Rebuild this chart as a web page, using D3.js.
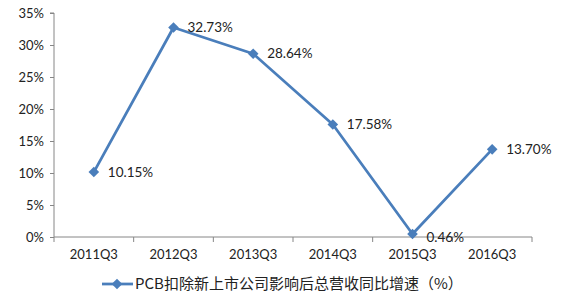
<!DOCTYPE html>
<html><head><meta charset="utf-8">
<script src="https://cdn.jsdelivr.net/npm/d3@7"></script>
<style>body{margin:0;background:#fff}svg{display:block}</style>
</head><body><svg id="c" width="567" height="298"></svg>
<script>
const categories = ["2011Q3","2012Q3","2013Q3","2014Q3","2015Q3","2016Q3"];
const values = [10.15, 32.73, 28.64, 17.58, 0.46, 13.70];
const yTicks = [0,5,10,15,20,25,30,35];
const seriesName = "PCB扣除新上市公司影响后总营收同比增速（%）";

(function(){
const svg = d3.select("#c");
const mLeft = 54, mRight = 532, mTop = 13, mBottom = 237;
const x = d3.scaleBand().domain(categories).range([mLeft, mRight]);
const y = d3.scaleLinear().domain([0,35]).range([mBottom, mTop]);
const axisColor = "#868686";
const color = "#4a7ebb";
const font = "Lato, 'Open Sans', sans-serif";

// y axis
const ya = svg.append("g").attr("transform", `translate(${mLeft},0)`)
  .call(d3.axisLeft(y).tickValues(yTicks).tickFormat(d => d + "%").tickSize(4).tickPadding(6));
ya.select(".domain").attr("stroke", axisColor).attr("d", `M-4,${mTop}H0V${mBottom}`);
ya.selectAll(".tick line").attr("stroke", axisColor);
ya.selectAll("text").attr("font-family", font).attr("font-size", 13).attr("fill", "#222");

// x axis
const xa = svg.append("g").attr("transform", `translate(0,${mBottom})`)
  .call(d3.axisBottom(x).tickSize(0).tickPadding(13));
xa.select(".domain").attr("stroke", axisColor).attr("d", `M${mLeft},0H${mRight}`);
xa.selectAll("text").attr("font-family", font).attr("font-size", 13).attr("fill", "#222");
const edges = categories.map(c => x(c)).concat([mRight]);
xa.selectAll(".edge").data(edges).enter().append("line")
  .attr("x1", d => d).attr("x2", d => d).attr("y1", 0).attr("y2", 5).attr("stroke", axisColor);

const cx = d => x(d) + x.bandwidth()/2;
const pts = categories.map((c,i) => [cx(c), y(values[i])]);

svg.append("path").attr("d", d3.line()(pts)).attr("fill","none")
  .attr("stroke", color).attr("stroke-width", 2.75).attr("stroke-linejoin","round");

const diamond = d3.symbol().type(d3.symbolDiamond2).size(72);
svg.selectAll(".pt").data(pts).enter().append("path")
  .attr("transform", d => `translate(${d[0]},${d[1]})`).attr("d", diamond).attr("fill", color);

svg.selectAll(".lbl").data(values).enter().append("text")
  .attr("x", (d,i) => pts[i][0] + 14)
  .attr("y", (d,i) => pts[i][1] + (i === 4 ? 3 : 0))
  .attr("dy", "0.35em")
  .attr("font-family", font).attr("font-size", 13.5).attr("fill", "#222")
  .text(d => d.toFixed(2) + "%");

// legend
const ly = 284;
svg.append("line").attr("x1", 102).attr("x2", 133).attr("y1", ly).attr("y2", ly)
  .attr("stroke", color).attr("stroke-width", 2.75);
svg.append("path").attr("transform", `translate(117,${ly})`).attr("d", diamond).attr("fill", color);
svg.append("text").attr("x", 135).attr("y", ly).attr("dy","0.35em")
  .attr("font-family", "'Noto Sans CJK SC', sans-serif").attr("font-size", 15).attr("fill", "#222")
  .text(seriesName);
})();
</script></body></html>
